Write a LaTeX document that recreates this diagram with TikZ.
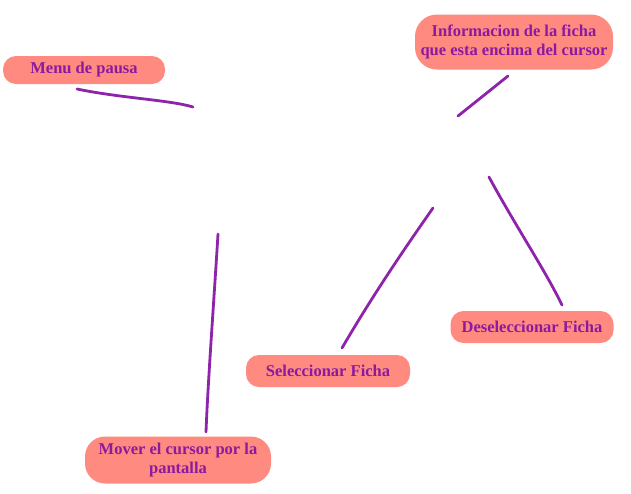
\documentclass[tikz,border=0pt]{standalone}
\usepackage{fontspec}
\setmainfont{Liberation Serif}
\begin{document}
\begin{tikzpicture}[x=1pt,y=-1pt,
  pill/.style={fill=pinkbox, draw=none, rounded corners=13pt, font=\bfseries\fontsize{16.5}{19}\selectfont, text=purpletext, align=center, inner sep=0pt},
  stroke/.style={draw=purpleline, line width=2.8pt, line cap=round}]
\definecolor{pinkbox}{HTML}{FF8A80}
\definecolor{purpletext}{HTML}{8A1AA0}
\definecolor{purpleline}{HTML}{8E24AA}
\useasboundingbox (0,0) rectangle (631,493);
\node[pill, minimum width=162pt, minimum height=28pt] (menu) at (84,70) {Menu de pausa};
\node[pill, minimum width=198pt, minimum height=55pt, rounded corners=22pt] (info) at (514,42) {Informacion de la ficha\\que esta encima del cursor};
\node[pill, minimum width=163pt, minimum height=32pt] (desel) at (532,327) {Deseleccionar Ficha};
\node[pill, minimum width=164pt, minimum height=32pt] (sel) at (328,371) {Seleccionar Ficha};
\node[pill, minimum width=186pt, minimum height=47pt, rounded corners=20pt] (mover) at (178,460) {Mover el cursor por la\\pantalla};
\coordinate (m1) at (77,89); \coordinate (m2) at (193,107);
\coordinate (i1) at (458,116); \coordinate (i2) at (508,76);
\coordinate (s1) at (433,208); \coordinate (s2) at (342,348);
\coordinate (d1) at (489,177); \coordinate (d2) at (562,305);
\coordinate (v1) at (218,234); \coordinate (v2) at (206,432);
\draw[stroke] (m1) .. controls (120,98) and (170,100) .. (m2);
\draw[stroke] (i1) -- (i2);
\draw[stroke] (s1) .. controls (400,255) and (370,300) .. (s2);
\draw[stroke] (d1) .. controls (515,225) and (545,270) .. (d2);
\draw[stroke] (v1) .. controls (214,300) and (208,380) .. (v2);
\end{tikzpicture}
\end{document}
